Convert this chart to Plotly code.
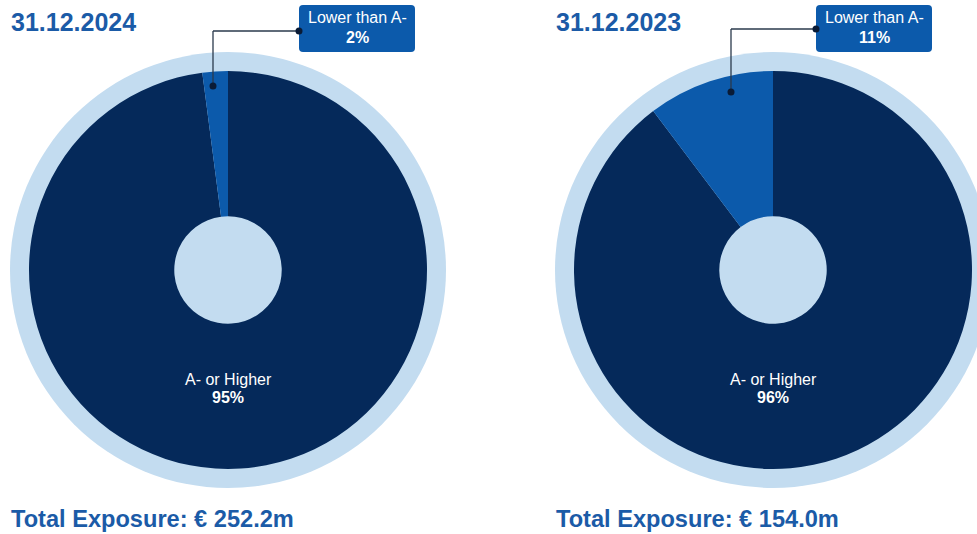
import plotly.graph_objects as go

# --- data -------------------------------------------------------------
dates = ["31.12.2024", "31.12.2023"]
categories = ["A- or Higher", "Lower than A-"]
shares_2024 = [95, 2]
shares_2023 = [96, 11]
total_exposure = [252.2, 154.0]  # EUR million

# --- layout constants (pixels) ---------------------------------------
W, H = 977, 534
CENTERS_X = [228, 773]
CY = 270
R_PIE = 199
R_RING = 218
HOLE = 0.27

NAVY = "#05295a"
MID = "#0c5aab"
LIGHT = "#c3dcf0"
TITLE_BLUE = "#1b5ba7"
LEADER = "#2a3a4c"
FONT = "Liberation Sans, Arial, sans-serif"

# callout boxes (x0, x1, y0, y1) and leader paths (dot -> elbow -> box)
BOXES = [(299, 415, 5, 52), (816, 932, 5, 52)]
LEADERS = [[(213, 86), (213, 31), (299, 31)],
           [(731, 92), (731, 29), (816, 29)]]


def px(x):
    return x / W


def py(y):
    return 1 - y / H


def text_line(x, y, text, size, color, anchor="center"):
    return dict(xref="paper", yref="paper", x=px(x), y=py(y),
                xanchor=anchor, yanchor="middle", showarrow=False,
                text=text, font=dict(family=FONT, size=size, color=color))


fig = go.Figure()
shapes = []
annotations = []

for i, shares in enumerate([shares_2024, shares_2023]):
    cx = CENTERS_X[i]
    # light outer ring (also shows through the hole)
    shapes.append(dict(type="circle", xref="paper", yref="paper",
                       x0=px(cx - R_RING), x1=px(cx + R_RING),
                       y0=py(CY + R_RING), y1=py(CY - R_RING),
                       fillcolor=LIGHT, line=dict(width=0), layer="below"))

    fig.add_trace(go.Pie(
        labels=categories, values=shares, sort=False,
        direction="clockwise", rotation=0, hole=HOLE,
        marker=dict(colors=[NAVY, MID], line=dict(width=0)),
        textinfo="none", hoverinfo="label+value", showlegend=False,
        domain=dict(x=[px(cx - R_PIE), px(cx + R_PIE)],
                    y=[py(CY + R_PIE), py(CY - R_PIE)]),
    ))

    # main slice label
    annotations.append(text_line(cx, 379, categories[0], 16, "white"))
    annotations.append(text_line(cx, 397, f"<b>{shares[0]}%</b>", 16, "white"))

    # callout box with rounded corners
    x0, x1, y0, y1 = BOXES[i]
    rr = 4
    path = (f"M {px(x0 + rr)} {py(y0)} L {px(x1 - rr)} {py(y0)} "
            f"Q {px(x1)} {py(y0)} {px(x1)} {py(y0 + rr)} "
            f"L {px(x1)} {py(y1 - rr)} "
            f"Q {px(x1)} {py(y1)} {px(x1 - rr)} {py(y1)} "
            f"L {px(x0 + rr)} {py(y1)} "
            f"Q {px(x0)} {py(y1)} {px(x0)} {py(y1 - rr)} "
            f"L {px(x0)} {py(y0 + rr)} "
            f"Q {px(x0)} {py(y0)} {px(x0 + rr)} {py(y0)} Z")
    shapes.append(dict(type="path", xref="paper", yref="paper", path=path,
                       fillcolor=MID, line=dict(width=0), layer="above"))
    bx = (x0 + x1) / 2
    annotations.append(text_line(bx, 18, categories[1], 16, "white"))
    annotations.append(text_line(bx, 37, f"<b>{shares[1]}%</b>", 16, "white"))

    # leader line with end dots
    pts = LEADERS[i]
    for (ax, ay), (bx2, by2) in zip(pts[:-1], pts[1:]):
        shapes.append(dict(type="line", xref="paper", yref="paper",
                           x0=px(ax), y0=py(ay), x1=px(bx2), y1=py(by2),
                           line=dict(color=LEADER, width=1.3), layer="above"))
    for (dx, dy) in (pts[0], pts[-1]):
        rd = 3.5
        shapes.append(dict(type="circle", xref="paper", yref="paper",
                           x0=px(dx - rd), x1=px(dx + rd),
                           y0=py(dy + rd), y1=py(dy - rd),
                           fillcolor="#0a1b36", line=dict(width=0),
                           layer="above"))

    # date heading and total
    left = cx - 219
    annotations.append(text_line(left, 22, f"<b>{dates[i]}</b>", 25,
                                 TITLE_BLUE, anchor="left"))
    annotations.append(text_line(
        left, 519, f"<b>Total Exposure: € {total_exposure[i]:.1f}m</b>",
        23.6, TITLE_BLUE, anchor="left"))

fig.update_layout(
    width=W, height=H,
    margin=dict(l=0, r=0, t=0, b=0),
    paper_bgcolor="white",
    shapes=shapes,
    annotations=annotations,
)

fig.write_html("out.html")
